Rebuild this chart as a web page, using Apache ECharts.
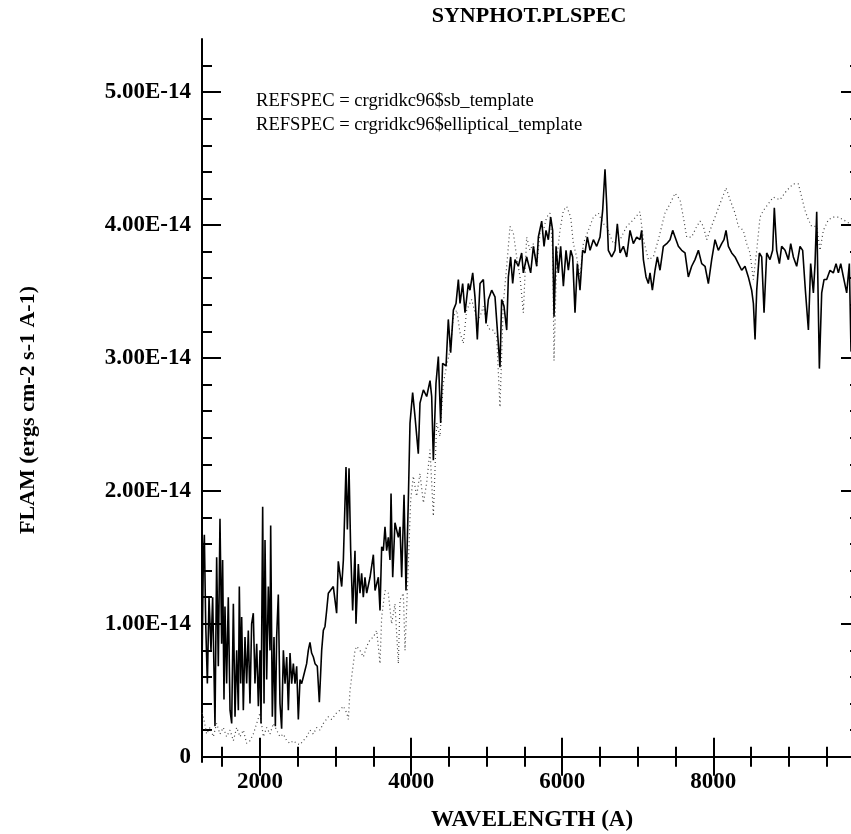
<!DOCTYPE html>
<html>
<head>
<meta charset="utf-8">
<script src="https://cdn.jsdelivr.net/npm/echarts@6/dist/echarts.min.js"></script>
<style>
html,body{margin:0;padding:0;background:#fff;}
#chart{width:851px;height:834px;}
</style>
</head>
<body>
<div id="chart"></div>
<script>
// Wavelength (Angstrom) and flux (units of 1E-14 ergs cm-2 s-1 A-1)
var sbWave = [1235,1250,1263,1281,1303,1325,1351,1373,1404,1426,1448,1470,1492,1505,1523,1536,1558,1580,1603,1625,1647,1669,1691,1713,1726,1744,1757,1779,1801,1823,1845,1867,1889,1911,1933,1956,1978,2000,2013,2035,2053,2066,2088,2110,2132,2141,2163,2185,2203,2220,2242,2264,2286,2309,2331,2353,2375,2397,2419,2441,2463,2485,2507,2529,2551,2573,2595,2617,2639,2661,2683,2706,2728,2758,2785,2816,2838,2860,2882,2904,2970,3014,3036,3081,3103,3138,3156,3178,3200,3226,3257,3270,3301,3323,3345,3367,3389,3412,3456,3500,3522,3566,3588,3610,3632,3654,3676,3698,3720,3734,3756,3786,3809,3831,3853,3875,3906,3932,3963,3985,4020,4051,4095,4117,4162,4206,4250,4272,4294,4329,4360,4391,4417,4462,4492,4523,4559,4594,4625,4647,4682,4713,4757,4779,4815,4845,4876,4912,4956,4991,5022,5066,5110,5176,5198,5229,5265,5287,5317,5344,5375,5419,5463,5485,5529,5582,5618,5662,5684,5728,5759,5785,5816,5847,5873,5891,5918,5948,5979,6015,6050,6081,6112,6138,6169,6200,6235,6270,6301,6332,6368,6412,6456,6500,6535,6566,6588,6610,6654,6698,6729,6765,6809,6853,6897,6941,6985,7029,7051,7074,7109,7140,7162,7193,7228,7259,7294,7338,7382,7427,7462,7493,7537,7581,7625,7669,7713,7757,7802,7846,7890,7934,7978,8022,8066,8110,8141,8168,8199,8243,8287,8331,8375,8419,8463,8507,8530,8552,8574,8609,8640,8671,8706,8750,8785,8807,8838,8874,8904,8949,8993,9024,9059,9103,9147,9182,9218,9258,9288,9324,9346,9368,9403,9434,9465,9500,9544,9588,9624,9655,9686,9721,9765,9800,9822,9840];
var sbFlux = [0.80,1.50,1.67,1.00,0.55,1.20,0.80,1.20,0.23,1.50,0.68,1.79,0.85,1.48,0.43,1.13,0.55,1.20,0.35,0.25,1.15,0.30,0.80,0.35,1.28,0.55,1.05,0.35,0.90,0.55,0.95,0.40,1.00,1.08,0.55,0.85,0.38,0.80,0.25,1.88,0.40,1.63,0.58,1.28,0.80,1.74,0.30,0.90,0.23,0.90,1.22,0.40,0.21,0.80,0.55,0.75,0.35,0.78,0.55,0.70,0.55,0.68,0.28,0.58,0.55,0.60,0.60,0.70,0.80,0.86,0.78,0.75,0.70,0.68,0.41,0.80,0.95,0.98,1.10,1.23,1.28,1.08,1.47,1.28,1.48,2.18,1.71,2.17,1.55,1.10,1.55,1.00,1.45,1.23,1.38,1.20,1.35,1.23,1.35,1.52,1.25,1.35,1.10,1.58,1.55,1.73,1.55,1.65,1.48,1.98,1.35,1.76,1.76,1.65,1.73,1.35,1.97,1.25,1.93,2.51,2.74,2.56,2.28,2.66,2.76,2.71,2.83,2.71,2.23,2.81,3.01,2.51,2.96,2.94,3.29,3.04,3.36,3.41,3.59,3.41,3.56,3.34,3.56,3.51,3.64,3.46,3.14,3.56,3.59,3.26,3.44,3.51,3.46,2.93,3.44,3.39,3.21,3.61,3.76,3.56,3.74,3.69,3.79,3.64,3.76,3.64,3.84,3.69,3.91,4.03,3.84,3.96,3.89,4.06,3.96,3.31,3.84,3.64,3.84,3.54,3.81,3.66,3.81,3.76,3.34,3.71,3.51,3.81,3.79,3.91,3.81,3.89,3.84,3.91,4.11,4.42,4.16,3.81,3.76,3.81,4.01,3.79,3.84,3.76,3.96,3.86,3.91,3.89,3.96,3.74,3.61,3.56,3.64,3.51,3.66,3.76,3.66,3.84,3.86,3.89,3.96,3.91,3.84,3.81,3.79,3.61,3.69,3.74,3.81,3.71,3.69,3.56,3.74,3.89,3.81,3.86,3.89,3.96,3.84,3.79,3.76,3.71,3.66,3.69,3.61,3.51,3.41,3.14,3.51,3.79,3.76,3.34,3.79,3.74,3.81,4.13,3.81,3.71,3.84,3.81,3.74,3.86,3.76,3.69,3.84,3.81,3.51,3.21,3.71,3.49,3.71,4.10,2.92,3.49,3.59,3.59,3.66,3.64,3.71,3.64,3.71,3.61,3.49,3.71,3.05,3.05];

var ellWave = [1235,1250,1294,1338,1382,1426,1470,1514,1558,1603,1647,1691,1735,1779,1823,1867,1911,1956,2000,2044,2088,2132,2176,2220,2264,2309,2353,2397,2441,2485,2529,2573,2617,2661,2706,2750,2794,2838,2904,2948,3014,3058,3103,3147,3169,3191,3213,3235,3257,3279,3323,3367,3412,3456,3500,3544,3588,3610,3654,3698,3742,3786,3831,3853,3897,3919,3950,3976,3994,4029,4073,4117,4162,4206,4250,4294,4338,4382,4426,4470,4515,4559,4603,4647,4691,4735,4801,4868,4912,4956,5000,5044,5088,5132,5176,5220,5265,5309,5353,5397,5441,5485,5529,5573,5618,5662,5706,5750,5794,5838,5873,5891,5926,5970,6015,6059,6112,6147,6191,6235,6279,6345,6412,6478,6544,6588,6676,6765,6853,6941,7029,7074,7140,7206,7272,7316,7360,7427,7493,7559,7603,7647,7713,7780,7824,7868,7912,7956,8022,8088,8168,8221,8287,8331,8397,8441,8485,8530,8574,8618,8662,8728,8794,8882,8971,9059,9125,9169,9213,9258,9302,9368,9412,9456,9522,9588,9655,9721,9809,9840];
var ellFlux = [0.33,0.30,0.17,0.22,0.15,0.25,0.17,0.22,0.15,0.20,0.12,0.22,0.15,0.20,0.10,0.12,0.17,0.25,0.33,0.15,0.22,0.17,0.25,0.20,0.15,0.17,0.12,0.10,0.12,0.10,0.09,0.12,0.15,0.20,0.17,0.22,0.20,0.25,0.30,0.28,0.33,0.35,0.38,0.33,0.28,0.50,0.60,0.70,0.80,0.83,0.80,0.75,0.83,0.88,0.90,0.95,0.70,1.05,1.25,1.23,1.00,1.15,0.70,1.18,1.23,0.80,1.25,1.25,1.93,2.11,1.96,2.13,1.91,2.06,2.31,1.81,2.51,2.41,2.81,2.94,3.06,3.31,3.36,3.19,3.11,3.36,3.44,3.29,3.31,3.39,3.26,3.21,3.21,3.16,2.63,3.41,3.69,3.99,3.94,3.76,3.61,3.34,3.91,3.81,3.86,3.69,3.94,3.96,4.06,4.09,3.81,2.98,3.74,3.96,4.11,4.14,4.06,3.86,3.76,3.61,3.86,3.96,4.06,4.09,4.01,3.99,3.86,3.89,3.99,4.04,4.10,3.89,3.74,3.76,3.89,3.99,4.09,4.16,4.24,4.19,4.06,3.91,3.91,3.99,4.03,3.99,3.89,3.96,4.06,4.16,4.28,4.19,4.09,3.99,3.96,3.86,3.79,3.59,3.81,4.06,4.11,4.16,4.21,4.19,4.26,4.31,4.31,4.21,4.11,4.04,3.99,3.99,3.81,3.96,4.04,4.06,4.06,4.04,4.01,4.01];

var xMajorTicks = [2000, 4000, 6000, 8000];
var xMinorTicks = [1500, 2500, 3000, 3500, 4500, 5000, 5500, 6500, 7000, 7500, 8500, 9000, 9500];
var yMajorTicks = [0, 1, 2, 3, 4, 5];
var yMinorTicks = [0.2,0.4,0.6,0.8,1.2,1.4,1.6,1.8,2.2,2.4,2.6,2.8,3.2,3.4,3.6,3.8,4.2,4.4,4.6,4.8,5.2];
var legendLines = ['REFSPEC = crgridkc96$sb_template', 'REFSPEC = crgridkc96$elliptical_template'];

var X_MIN = 1232, X_MAX = 9941, Y_MIN = -0.04, Y_MAX = 5.40;
var FONT = 'Liberation Serif';

function zip(a, b) { return a.map(function (v, i) { return [v, b[i]]; }); }

function xAx(pos, ticks, len, showLine, showLabel) {
  return {
    type: 'value', position: pos, min: X_MIN, max: X_MAX,
    axisLine: { show: showLine, lineStyle: { color: '#000', width: 2 } },
    axisTick: { show: true, inside: true, length: len, customValues: ticks, lineStyle: { color: '#000', width: 2 } },
    axisLabel: { show: showLabel, customValues: ticks, margin: 9, color: '#000', fontFamily: FONT, fontWeight: 'bold', fontSize: 23,
      formatter: function (v) { return String(v); } },
    splitLine: { show: false }
  };
}
function yAx(pos, ticks, len, showLine, showLabel) {
  return {
    type: 'value', position: pos, min: Y_MIN, max: Y_MAX,
    axisLine: { show: showLine, lineStyle: { color: '#000', width: 2 } },
    axisTick: { show: true, inside: true, length: len, customValues: ticks, lineStyle: { color: '#000', width: 2 } },
    axisLabel: { show: showLabel, customValues: ticks, margin: 11, color: '#000', fontFamily: FONT, fontWeight: 'bold', fontSize: 23,
      formatter: function (v) { return v === 0 ? '0' : v.toFixed(2) + 'E-14'; } },
    splitLine: { show: false }
  };
}

var chart = echarts.init(document.getElementById('chart'), null, { renderer: 'canvas' });
chart.setOption({
  animation: false,
  backgroundColor: '#fff',
  grid: { left: 202, top: 39, width: 658, height: 723, containLabel: false, outerBoundsMode: 'none' },
  xAxis: [
    xAx('bottom', xMajorTicks, 19, true, true),
    xAx('bottom', xMinorTicks, 10, false, false),
    xAx('top', xMajorTicks, 19, true, false),
    xAx('top', xMinorTicks, 10, false, false)
  ],
  yAxis: [
    yAx('left', yMajorTicks, 19, true, true),
    yAx('left', yMinorTicks, 10, false, false),
    yAx('right', yMajorTicks, 19, true, false),
    yAx('right', yMinorTicks, 10, false, false)
  ],
  graphic: [
    { type: 'text', x: 529, y: 16, style: { text: 'SYNPHOT.PLSPEC', fontFamily: FONT, fontWeight: 'bold', fontSize: 22, fill: '#000', align: 'center', verticalAlign: 'middle' } },
    { type: 'text', x: 256, y: 101, style: { text: legendLines[0], fontFamily: FONT, fontSize: 18.6, fill: '#000', align: 'left', verticalAlign: 'middle' } },
    { type: 'text', x: 256, y: 125, style: { text: legendLines[1], fontFamily: FONT, fontSize: 18.6, fill: '#000', align: 'left', verticalAlign: 'middle' } },
    { type: 'text', x: 532, y: 820, style: { text: 'WAVELENGTH (A)', fontFamily: FONT, fontWeight: 'bold', fontSize: 23, fill: '#000', align: 'center', verticalAlign: 'middle' } },
    { type: 'text', x: 28, y: 410, rotation: Math.PI / 2, style: { text: 'FLAM (ergs cm-2 s-1 A-1)', fontFamily: FONT, fontWeight: 'bold', fontSize: 22, fill: '#000', align: 'center', verticalAlign: 'middle' } }
  ],
  series: [
    {
      name: legendLines[1], type: 'line', xAxisIndex: 0, yAxisIndex: 0,
      data: zip(ellWave, ellFlux), showSymbol: false, clip: true,
      lineStyle: { color: '#444', width: 1.2, type: [1, 3] }
    },
    {
      name: legendLines[0], type: 'line', xAxisIndex: 0, yAxisIndex: 0,
      data: zip(sbWave, sbFlux), showSymbol: false, clip: true,
      lineStyle: { color: '#000', width: 1.6 }
    }
  ]
});
</script>
</body>
</html>
